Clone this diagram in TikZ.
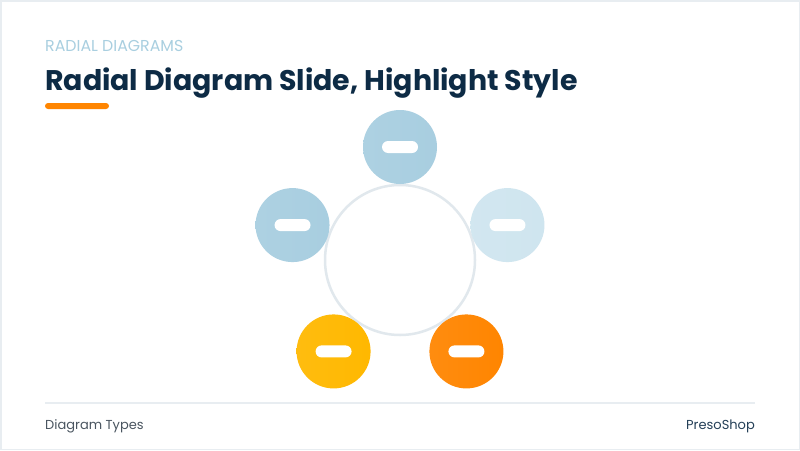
\documentclass[tikz,border=0pt]{standalone}
\usepackage{fontspec}
\setmainfont{Poppins}
\usepackage{xcolor}
\usetikzlibrary{positioning,calc}

\definecolor{rdnavy}{HTML}{0D2B45}
\definecolor{rdlabel}{HTML}{A9CFE0}
\definecolor{rdorange}{HTML}{FF8500}
\definecolor{rdamber}{HTML}{FFB800}
\definecolor{rdblue}{HTML}{A8CEE0}
\definecolor{rdpale}{HTML}{CFE5EF}
\definecolor{rdring}{HTML}{E1E8ED}
\definecolor{rdgray}{HTML}{4A5560}
\definecolor{rdline}{HTML}{E8EDF1}

\begin{document}
\begin{tikzpicture}[x=1pt, y=-1pt,
    rd hub/.style={circle, draw=rdring, line width=2.5pt, fill=white, minimum size=150pt, inner sep=0pt},
    rd spoke/.style={circle, left color=#1!94!white, right color=#1, minimum size=74pt, inner sep=0pt},
    rd pill/.style={rectangle, rounded corners=6pt, fill=white, minimum width=36pt, minimum height=12pt, inner sep=0pt},
    rd text/.style={anchor=base west, inner sep=0pt}]

    % slide frame
    \useasboundingbox (0,0) rectangle (800,450);
    \draw [rdline, line width=1.5pt, fill=white] (0.75,0.75) rectangle (799.25,449.25);

    % heading
    \node [rd text, text=rdlabel, font=\fontsize{15.8}{18}\selectfont] (kicker) at (45,51) {RADIAL DIAGRAMS};
    \node [rd text, text=rdnavy, font=\fontsize{28.4}{33}\selectfont\bfseries] (title) at (45,90) {Radial Diagram Slide, Highlight Style};
    \fill [rdorange, rounded corners=3pt] (45,103) rectangle (109,109);

    % radial diagram
    \node [rd hub] (hub) at (400,260) {};
    \foreach \ang/\col/\name in {90/rdblue/top, 162/rdblue/left, 18/rdpale/right, 234/rdamber/lowleft, 306/rdorange/lowright} {
        \node [rd spoke=\col] (\name) at ($(hub)+({113*cos(\ang)},{-113*sin(\ang)})$) {};
        \node [rd pill] at (\name) {};
    }

    % footer
    \draw [rdline, line width=1.5pt] (45,403) -- (755,403);
    \node [rd text, text=rdgray, font=\fontsize{13}{15}\selectfont] (topic) at (45,429) {Diagram Types};
    \node [anchor=base east, inner sep=0pt, text=rdnavy!90, font=\fontsize{13}{15}\selectfont] (brand) at (755,429) {PresoShop};

\end{tikzpicture}
\end{document}
